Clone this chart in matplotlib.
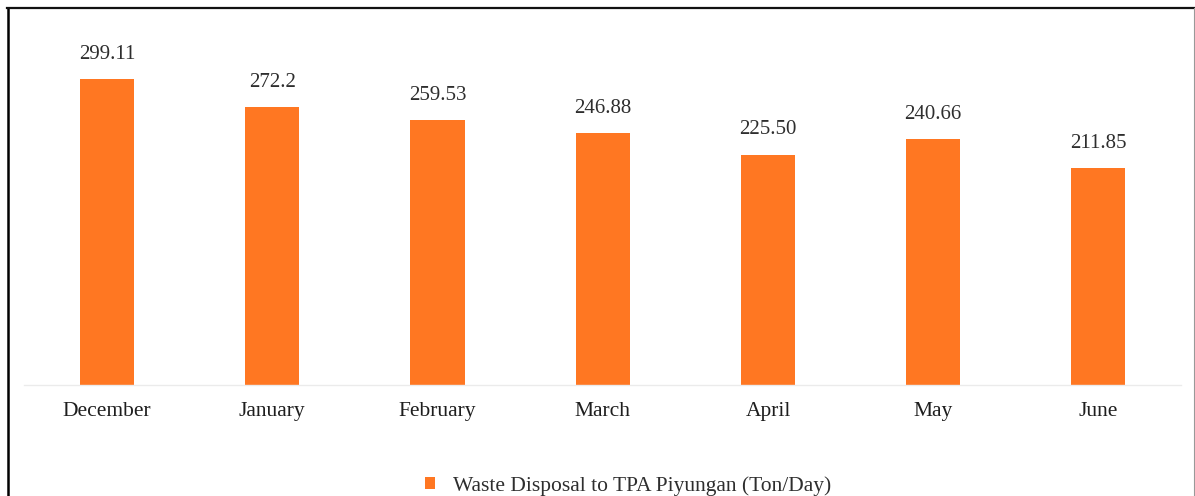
import matplotlib
matplotlib.use("Agg")
import matplotlib.pyplot as plt
from matplotlib.lines import Line2D
from matplotlib.patches import Patch

months = ["December", "January", "February", "March", "April", "May", "June"]
values = [299.11, 272.2, 259.53, 246.88, 225.50, 240.66, 211.85]
value_labels = ["299.11", "272.2", "259.53", "246.88", "225.50", "240.66", "211.85"]
series_name = "Waste Disposal to TPA Piyungan (Ton/Day)"

BAR = "#FF7722"
W, H = 1195, 496
fig = plt.figure(figsize=(W / 100, H / 100), dpi=100)
fig.patch.set_facecolor("white")

ax = fig.add_axes([24.4 / W, 1 - 384.5 / H, 1156.7 / W, 364.5 / H])
x = range(len(months))
ax.bar(x, values, width=0.327, color=BAR, zorder=2)
ax.set_xlim(-0.5, len(months) - 0.5)
ax.set_ylim(0, 357.4)

for xi, v, lab in zip(x, values, value_labels):
    ax.annotate(lab, (xi, v), xytext=(0, 14.5), textcoords="offset points",
                ha="center", va="baseline", fontsize=15,
                family="Liberation Serif", color="#2e2e2e")

ax.set_xticks(list(x))
ax.set_xticklabels(months, family="Liberation Serif", fontsize=15.5, color="#1e1e1e")
ax.tick_params(axis="x", length=0, pad=12.5)
ax.set_yticks([])
for s in ["left", "right", "top"]:
    ax.spines[s].set_visible(False)
ax.spines["bottom"].set_color("#EBEBEB")
ax.spines["bottom"].set_linewidth(1.0)

handle = Patch(facecolor=BAR, edgecolor="none")
fig.legend([handle], [series_name], loc="center",
           bbox_to_anchor=(628 / W, 1 - 486 / H), frameon=False,
           prop={"family": "Liberation Serif", "size": 15.5},
           handlelength=0.47, handleheight=0.47, handletextpad=0.85,
           labelcolor="#2e2e2e", borderpad=0)

# outer frame
fig.add_artist(Line2D([7.5 / W, 7.5 / W], [0, 1 - 8 / H], transform=fig.transFigure,
                      color="black", lw=1.8))
fig.add_artist(Line2D([7 / W, 1194 / W], [1 - 8 / H, 1 - 8 / H], transform=fig.transFigure,
                      color="#111111", lw=1.6))
fig.add_artist(Line2D([1193.5 / W, 1193.5 / W], [0, 1 - 8 / H], transform=fig.transFigure,
                      color="#999999", lw=0.8))

fig.savefig("out.png", dpi=100, facecolor="white")
